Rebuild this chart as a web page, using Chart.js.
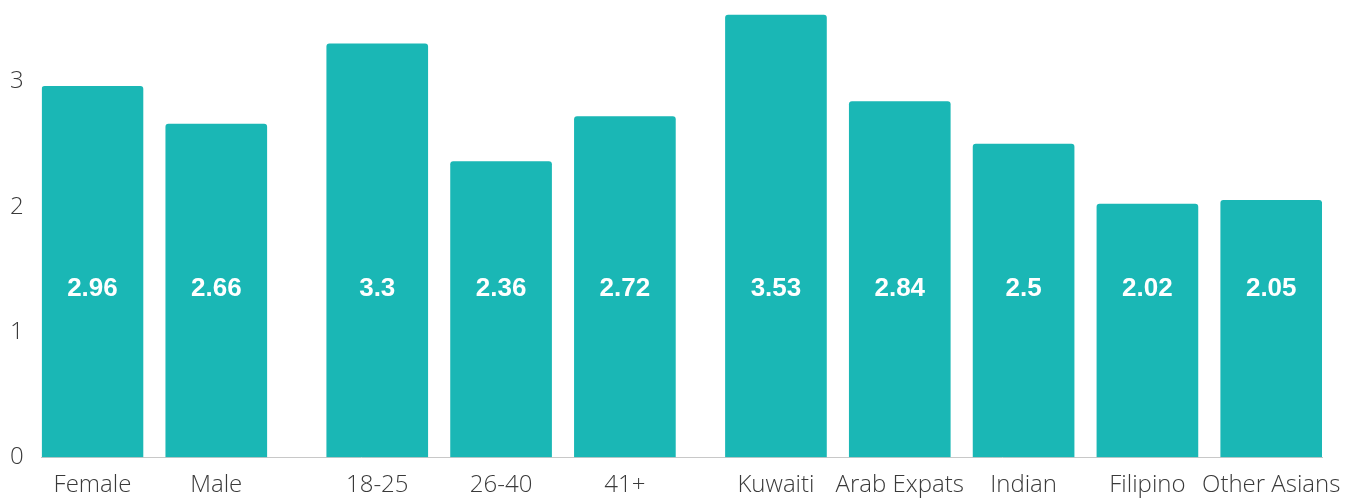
<!DOCTYPE html>
<html>
<head>
<meta charset="utf-8">
<script src="https://cdn.jsdelivr.net/npm/chart.js@4"></script>
<style>
  html, body { margin: 0; padding: 0; background: #fff; }
  #wrap { width: 1354px; height: 498px; }
</style>
</head>
<body>
<div id="wrap"><canvas id="chart"></canvas></div>
<script>
var categories = ['Female', 'Male', '18-25', '26-40', '41+', 'Kuwaiti', 'Arab Expats', 'Indian', 'Filipino', 'Other Asians'];
var values = [2.96, 2.66, 3.3, 2.36, 2.72, 3.53, 2.84, 2.5, 2.02, 2.05];
var groupOf = [0, 0, 1, 1, 1, 2, 2, 2, 2, 2];
var yTicks = [0, 1, 2, 3];

// layout: extra space before each group, in category units
var groupGap = [0, 0.3, 0.52];
var barHalf = 0.41;

var points = [];
var xPos = [];
for (var i = 0; i < categories.length; i++) {
    var x = i + groupGap[groupOf[i]];
    xPos.push(x);
    points.push({x: x, y: values[i]});
}

var valueLabels = {
    id: 'valueLabels',
    afterDatasetsDraw: function(chart) {
        var ctx = chart.ctx;
        var y = chart.scales.y.getPixelForValue(1.345);
        ctx.save();
        ctx.fillStyle = '#ffffff';
        ctx.font = 'bold 26px "Liberation Sans", Arial, sans-serif';
        ctx.textAlign = 'center';
        ctx.textBaseline = 'middle';
        chart.getDatasetMeta(0).data.forEach(function(bar, i) {
            ctx.fillText(String(values[i]), bar.x, y);
        });
        ctx.restore();
    }
};

var tickFont = {family: '"Open Sans", sans-serif', size: 24, weight: 300};

var ctx = document.getElementById('chart').getContext('2d');
var chart = new Chart(ctx, {
    type: 'bar',
    data: {
        datasets: [{
            data: points,
            backgroundColor: '#1ab7b5',
            borderRadius: 3,
            borderSkipped: 'bottom',
            barThickness: 101
        }]
    },
    options: {
        responsive: true,
        maintainAspectRatio: false,
        animation: false,
        layout: {padding: {left: 0, right: 32, top: 0, bottom: 0}},
        plugins: {
            legend: {display: false},
            tooltip: {enabled: false}
        },
        scales: {
            x: {
                type: 'linear',
                offset: false,
                min: xPos[0] - barHalf,
                max: xPos[xPos.length - 1] + barHalf,
                grid: {display: false},
                border: {display: true, color: '#c8c8c8', width: 1},
                afterBuildTicks: function(axis) {
                    axis.ticks = xPos.map(function(v) { return {value: v}; });
                },
                afterFit: function(axis) {
                    axis.paddingLeft = 0;
                    axis.paddingRight = 0;
                    axis.height = axis.height - 8;
                },
                ticks: {
                    autoSkip: false,
                    maxRotation: 0,
                    padding: 6,
                    color: '#3a3a3a',
                    font: tickFont,
                    callback: function(v, idx) { return categories[idx]; }
                }
            },
            y: {
                min: 0,
                max: 3.65,
                grid: {display: false},
                border: {display: false},
                afterBuildTicks: function(axis) {
                    axis.ticks = yTicks.map(function(v) { return {value: v}; });
                },
                afterFit: function(axis) {
                    axis.paddingTop = 0;
                    axis.paddingBottom = 0;
                },
                ticks: {
                    padding: 10,
                    color: '#3a3a3a',
                    font: tickFont
                }
            }
        }
    },
    plugins: [valueLabels]
});
</script>
</body>
</html>
